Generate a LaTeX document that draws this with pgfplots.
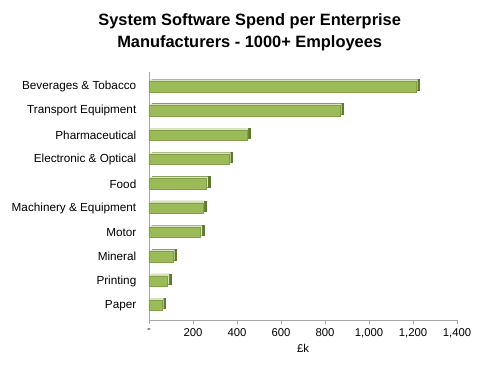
\documentclass[border=0pt]{standalone}
\usepackage{pgfplots}
\pgfplotsset{compat=1.18}
\usepackage{fontspec}
\setmainfont{Liberation Sans}
\definecolor{barfront}{HTML}{9BBB59}
\definecolor{barside}{HTML}{5E7A2E}
\definecolor{bartop}{HTML}{D7E4BD}
\definecolor{axgray}{HTML}{A6A6A6}
\pgfplotstableread{
v y
60 0
85 1
110 2
235 3
245 4
262 5
365 6
445 7
870 8
1215 9
}\spend
\begin{document}
\begin{tikzpicture}
\begin{axis}[
 scale only axis, width=231pt, height=186pt,
 xbar, bar shift=0pt, bar width=7.8pt,
 xmin=0, xmax=1400, ymin=-0.6, ymax=9.6,
 axis x line*=bottom, axis y line*=left,
 axis line style={axgray},
 xtick={0,200,...,1400},
 xticklabels={-,200,400,600,800,{1,000},{1,200},{1,400}},
 ytick={0,...,9},
 yticklabels={Paper,Printing,Mineral,Motor,Machinery \& Equipment,Food,Electronic \& Optical,Pharmaceutical,Transport Equipment,Beverages \& Tobacco},
 y tick style={draw=none},
 x tick style={axgray},
 tick align=outside, major tick length=3pt,
 xticklabel style={font=\fontsize{8.5}{10}\selectfont},
 yticklabel style={font=\fontsize{8.8}{10}\selectfont, xshift=-3pt},
 xlabel={£k},
 xlabel style={font=\fontsize{8.5}{10}\selectfont, yshift=2pt},
 title={System Software Spend per Enterprise\\Manufacturers - 1000+ Employees},
 title style={font=\bfseries\fontsize{12.3}{16.5}\selectfont, align=center, xshift=-40pt, yshift=6pt},
 clip=false,
]
\addplot[fill=barside, draw=barside, xshift=2.5pt, yshift=1.5pt] table[x=v,y=y] {\spend};
\addplot[fill=bartop, draw=none, xshift=1pt, yshift=1.5pt] table[x=v,y=y] {\spend};
\addplot[fill=barfront, draw=barfront!85!black] table[x=v,y=y] {\spend};
\end{axis}
\path (current axis.south west) ++(-111.75pt,-42pt) coordinate (bl);
\path (current axis.north east) ++(32.25pt,54pt) coordinate (tr);
\useasboundingbox (bl) rectangle (tr);
\end{tikzpicture}
\end{document}
